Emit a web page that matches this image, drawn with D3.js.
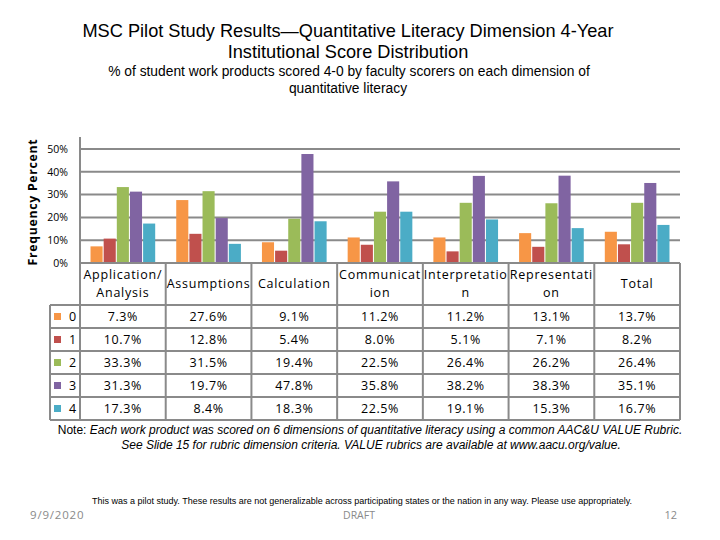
<!DOCTYPE html>
<html>
<head>
<meta charset="utf-8">
<script src="https://cdn.jsdelivr.net/npm/d3@7"></script>
<style>
  body { margin: 0; background: #fff; }
  svg text { fill: #000; }
</style>
</head>
<body>
<div id="chart"></div>
<script>
const width = 720
const height = 540
const margin = {top: 149, left: 80, right: 40}

const categories = [["Application/", "Analysis"], ["Assumptions"], ["Calculation"], ["Communicat", "ion"], ["Interpretatio", "n"], ["Representati", "on"], ["Total"]]
const scores = ["0", "1", "2", "3", "4"]
const colors = ["#F79646", "#C0504D", "#9BBB59", "#8064A2", "#4BACC6"]
const score0 = [7.3, 27.6, 9.1, 11.2, 11.2, 13.1, 13.7]
const score1 = [10.7, 12.8, 5.4, 8.0, 5.1, 7.1, 8.2]
const score2 = [33.3, 31.5, 19.4, 22.5, 26.4, 26.2, 26.4]
const score3 = [31.3, 19.7, 47.8, 35.8, 38.2, 38.3, 35.1]
const score4 = [17.3, 8.4, 18.3, 22.5, 19.1, 15.3, 16.7]
const series = [score0, score1, score2, score3, score4]
const yTicks = [0, 10, 20, 30, 40, 50]

const gridColor = "#8a8a8a"
const svg = d3.select("div#chart").append("svg").attr("width", width).attr("height", height)

// titles
svg.append("text").attr("x", 348).attr("y", 37).attr("text-anchor", "middle")
   .attr("font-family", "Liberation Sans, Arial").attr("font-size", 18.2)
   .text("MSC Pilot Study Results\u2014Quantitative Literacy Dimension 4-Year")
svg.append("text").attr("x", 348).attr("y", 58).attr("text-anchor", "middle")
   .attr("font-family", "Liberation Sans, Arial").attr("font-size", 18.2)
   .text("Institutional Score Distribution")
svg.append("text").attr("x", 349).attr("y", 76).attr("text-anchor", "middle")
   .attr("font-family", "Liberation Sans, Arial").attr("font-size", 13.8)
   .text("% of student work products scored 4-0 by faculty scorers on each dimension of")
svg.append("text").attr("x", 348).attr("y", 93).attr("text-anchor", "middle")
   .attr("font-family", "Liberation Sans, Arial").attr("font-size", 13.8)
   .text("quantitative literacy")

const x = d3.scaleBand().domain(d3.range(categories.length)).range([margin.left, width - margin.right])
const xInner = d3.scaleBand().domain(d3.range(scores.length)).range([0, x.bandwidth()]).paddingInner(0.08).paddingOuter(0.8)
const y = d3.scaleLinear().domain([0, 50]).range([263, margin.top])

// grid
svg.append("g").selectAll("line").data(yTicks.slice(1)).join("line")
   .attr("x1", margin.left).attr("x2", width - margin.right)
   .attr("y1", d => y(d)).attr("y2", d => y(d))
   .attr("stroke", gridColor).attr("stroke-width", 2)

// y axis
const yAxis = d3.axisLeft(y).tickValues(yTicks).tickFormat(d => d + "%").tickSize(0).tickPadding(12)
const yAxisGroup = svg.append("g").attr("transform", `translate(${margin.left},0)`).call(yAxis)
yAxisGroup.select(".domain").remove()
yAxisGroup.selectAll("text").attr("font-family", "Open Sans").attr("font-size", 10.5).attr("fill", "#000")

svg.append("text").attr("transform", "translate(37,202) rotate(-90)")
   .attr("text-anchor", "middle").attr("font-family", "Open Sans").attr("font-weight", "bold")
   .attr("font-size", 12.3).attr("letter-spacing", 0.7).text("Frequency Percent")

// bars
series.forEach((vals, s) => {
  svg.append("g").selectAll("rect").data(vals).join("rect")
     .attr("x", (d, i) => x(i) + xInner(s))
     .attr("width", xInner.bandwidth())
     .attr("y", d => y(d))
     .attr("height", d => y(0) - y(d))
     .attr("fill", colors[s])
})

// table
const rowTop = 305
const rowH = 23
const legendLeft = 50
const tbl = svg.append("g")
const line = (x1, y1, x2, y2) => tbl.append("line").attr("x1", x1).attr("y1", y1).attr("x2", x2).attr("y2", y2)
   .attr("stroke", gridColor).attr("stroke-width", 2)

line(margin.left, 137, margin.left, rowTop + rowH * scores.length)
line(margin.left, y(0), width - margin.right, y(0))
for (let r = 0; r <= scores.length; r++) line(legendLeft, rowTop + r * rowH, width - margin.right, rowTop + r * rowH)
line(legendLeft, rowTop, legendLeft, rowTop + rowH * scores.length)
categories.forEach((c, i) => line(x(i) + x.bandwidth(), y(0), x(i) + x.bandwidth(), rowTop + rowH * scores.length))

// header labels
categories.forEach((c, i) => {
  const t = tbl.append("text").attr("text-anchor", "middle")
     .attr("font-family", "Open Sans").attr("font-size", 12.5).attr("letter-spacing", 0.75)
  const cy = c.length === 1 ? 288 : 279
  c.forEach((s, k) => t.append("tspan").attr("x", x(i) + x.bandwidth() / 2).attr("y", cy + k * 18).text(s))
})

// rows
series.forEach((vals, s) => {
  const cy = rowTop + s * rowH + rowH / 2
  tbl.append("rect").attr("x", legendLeft + 4).attr("y", cy - 3.5).attr("width", 7).attr("height", 7).attr("fill", colors[s])
  tbl.append("text").attr("x", legendLeft + 19).attr("y", cy + 4.5)
     .attr("font-family", "Open Sans").attr("font-size", 12.5).text(scores[s])
  tbl.append("g").selectAll("text").data(vals).join("text")
     .attr("x", (d, i) => x(i) + x.bandwidth() / 2).attr("y", cy + 4.5)
     .attr("text-anchor", "middle").attr("font-family", "Open Sans").attr("font-size", 12.5)
     .attr("letter-spacing", 0.6)
     .text(d => d.toFixed(1) + "%")
})

// note
const note1 = svg.append("text").attr("x", 370).attr("y", 434).attr("text-anchor", "middle")
   .attr("font-family", "Liberation Sans Narrow, Liberation Sans").attr("font-size", 12)
note1.append("tspan").text("Note: ")
note1.append("tspan").attr("font-style", "italic").text("Each work product was scored on 6 dimensions of quantitative literacy using a common AAC&U VALUE Rubric.")
svg.append("text").attr("x", 371).attr("y", 449).attr("text-anchor", "middle")
   .attr("font-family", "Liberation Sans Narrow, Liberation Sans").attr("font-size", 12).attr("font-style", "italic")
   .text("See Slide 15 for rubric dimension criteria. VALUE rubrics are available at www.aacu.org/value.")

// footer
svg.append("text").attr("x", 362).attr("y", 504).attr("text-anchor", "middle")
   .attr("font-family", "Liberation Sans Narrow, Liberation Sans").attr("font-size", 9)
   .text("This was a pilot study. These results are not generalizable across participating states or the nation in any way. Please use appropriately.")
svg.append("text").attr("x", 30).attr("y", 519).attr("font-family", "Open Sans").attr("font-size", 11.5).attr("letter-spacing", 0.8).text("9/9/2020").style("fill", "#8a8a8a")
svg.append("text").attr("x", 359).attr("y", 519).attr("text-anchor", "middle").attr("font-family", "Open Sans").attr("font-size", 10.5).text("DRAFT").style("fill", "#8a8a8a")
svg.append("text").attr("x", 677).attr("y", 519).attr("text-anchor", "end").attr("font-family", "Open Sans").attr("font-size", 11).text("12").style("fill", "#8a8a8a")
</script>
</body>
</html>
